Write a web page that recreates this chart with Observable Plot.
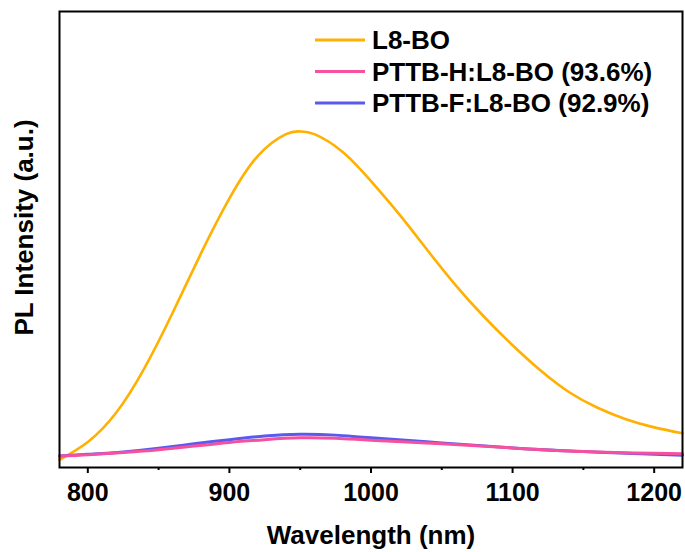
<!DOCTYPE html>
<html>
<head>
<meta charset="utf-8">
<script src="https://cdn.jsdelivr.net/npm/d3@7"></script>
<script src="https://cdn.jsdelivr.net/npm/@observablehq/plot@0.6"></script>
<style>
  html, body { margin: 0; padding: 0; background: white; }
  #chart { position: relative; width: 685px; height: 552px; }
  #legend { position: absolute; left: 0; top: 0; pointer-events: none; }
</style>
</head>
<body>
<div id="chart"></div>
<script>
// ---- data ----
const seriesNames = ["L8-BO", "PTTB-H:L8-BO (93.6%)", "PTTB-F:L8-BO (92.9%)"];
const seriesColors = ["#FFB000", "#F7509E", "#5A5AEE"];

const wlL8 = [780, 800, 820, 840, 860, 880, 900, 920, 940, 950, 960, 980, 1000, 1020, 1040, 1060, 1080, 1100, 1120, 1140, 1160, 1180, 1200, 1220];
const piL8 = [0.017, 0.056, 0.120, 0.218, 0.340, 0.470, 0.590, 0.683, 0.731, 0.737, 0.731, 0.692, 0.628, 0.555, 0.476, 0.399, 0.330, 0.268, 0.212, 0.165, 0.131, 0.106, 0.088, 0.075];

const wlBlend = [780, 800, 825, 850, 875, 900, 925, 950, 975, 1000, 1050, 1100, 1150, 1200, 1220];
const piH = [0.025, 0.028, 0.033, 0.039, 0.047, 0.055, 0.061, 0.065, 0.064, 0.060, 0.052, 0.043, 0.035, 0.031, 0.030];
const piF = [0.025, 0.029, 0.034, 0.042, 0.052, 0.061, 0.069, 0.073, 0.071, 0.065, 0.054, 0.043, 0.035, 0.029, 0.027];

const majorTicks = [800, 900, 1000, 1100, 1200];
const minorTicks = [850, 950, 1050, 1150];
const xTitle = "Wavelength (nm)";
const yTitle = "PL Intensity (a.u.)";

// ---- tables ----
const dL8 = wlL8.map((w, i) => ({w, v: piL8[i]}));
const dH = wlBlend.map((w, i) => ({w, v: piH[i]}));
const dF = wlBlend.map((w, i) => ({w, v: piF[i]}));

const font = "'Liberation Sans', Arial, Helvetica, sans-serif";

const plot = Plot.plot({
  width: 685,
  height: 552,
  marginLeft: 59,
  marginRight: 3,
  marginTop: 11,
  marginBottom: 85,
  style: {fontFamily: font, fontWeight: "bold", background: "white", color: "black", overflow: "visible"},
  x: {domain: [780, 1220]},
  y: {domain: [0, 1], axis: null},
  marks: [
    Plot.line(dL8, {x: "w", y: "v", stroke: seriesColors[0], strokeWidth: 2.6, curve: "natural"}),
    Plot.line(dF, {x: "w", y: "v", stroke: seriesColors[2], strokeWidth: 3, curve: "natural"}),
    Plot.line(dH, {x: "w", y: "v", stroke: seriesColors[1], strokeWidth: 3, curve: "natural"}),
    Plot.frame({stroke: "black", strokeWidth: 2}),
    Plot.axisX({ticks: majorTicks, tickSize: 6, tickPadding: 10, fontSize: 25, strokeWidth: 2, label: null, tickFormat: d => String(d)}),
    Plot.axisX({ticks: minorTicks, tickSize: 3, strokeWidth: 2, label: null, tickFormat: () => ""}),
    Plot.text([xTitle], {frameAnchor: "bottom", textAnchor: "middle", dy: 76, fontSize: 26, fontWeight: "bold", fill: "black"}),
    Plot.text([yTitle], {frameAnchor: "left", textAnchor: "middle", lineAnchor: "middle", rotate: -90, dx: -35, dy: -12, fontSize: 26, fontWeight: "bold", fill: "black"})
  ]
});
// drop empty minor-tick labels
d3.select(plot).selectAll("text").filter(function() { return this.textContent.trim() === ""; }).remove();
document.getElementById("chart").appendChild(plot);

// ---- legend overlay ----
const leg = d3.select("#chart").append("svg")
  .attr("id", "legend").attr("width", 685).attr("height", 552);
const legX0 = 315, legX1 = 365, legY0 = 40, legStep = 31.5;
seriesNames.forEach((name, i) => {
  const y = legY0 + i * legStep;
  leg.append("line").attr("x1", legX0).attr("x2", legX1).attr("y1", y).attr("y2", y)
    .attr("stroke", seriesColors[i]).attr("stroke-width", 3);
  leg.append("text").attr("x", legX1 + 7).attr("y", y + 9)
    .attr("font-family", font).attr("font-weight", "bold").attr("font-size", 26)
    .attr("fill", "black").text(name);
});
</script>
</body>
</html>
